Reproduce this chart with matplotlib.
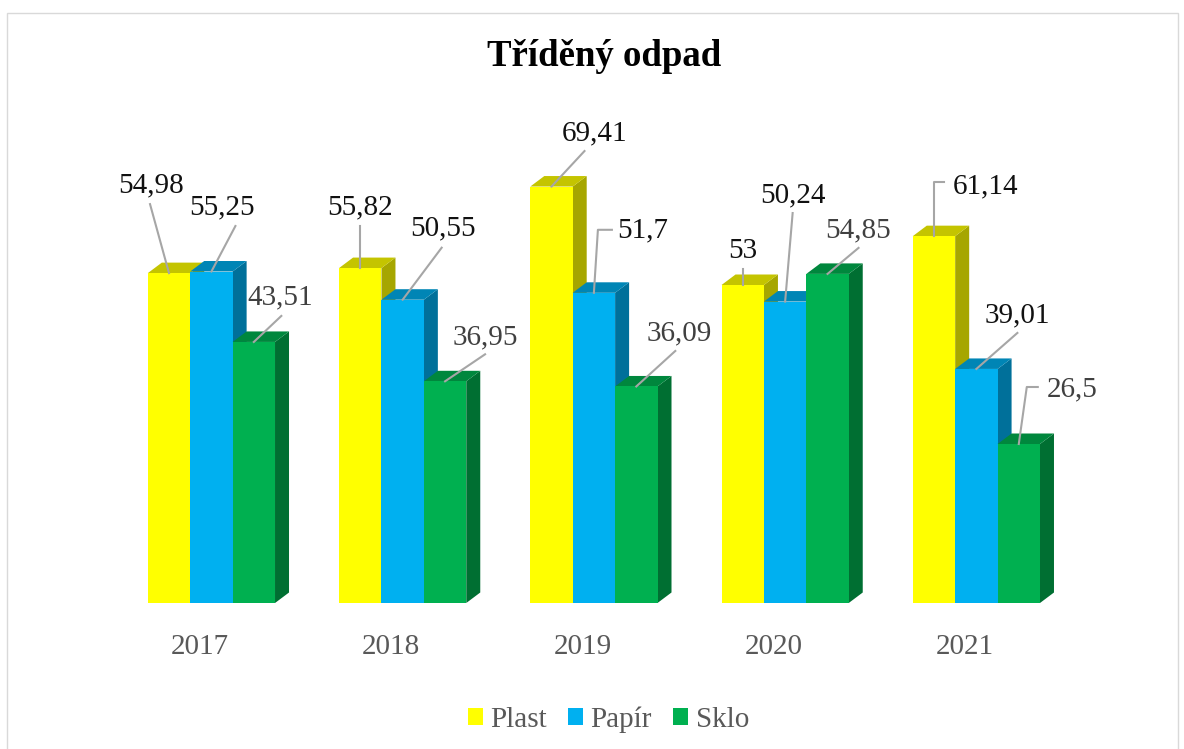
import matplotlib
matplotlib.use('Agg')
from matplotlib import pyplot as plt
from matplotlib.patches import Patch, Polygon, Rectangle

years = ['2017', '2018', '2019', '2020', '2021']
plast = [54.98, 55.82, 69.41, 53, 61.14]
papir = [55.25, 50.55, 51.7, 50.24, 39.01]
sklo = [43.51, 36.95, 36.09, 54.85, 26.5]

series_names = ['Plast', 'Papír', 'Sklo']
series_values = [plast, papir, sklo]
front_colors = ['#FFFF00', '#00B0F0', '#00B050']
top_colors = ['#C4C400', '#0085B5', '#00873D']
side_colors = ['#A6A600', '#00709A', '#006F32']
label_colors = ['#111111', '#111111', '#404040']

W, H = 1184, 749
DPI = 100
# axes frame in pixels of the picture
AX_LEFT, AX_RIGHT = 104.4, 1060.6
AX_TOP, AX_BOTTOM = 123, 603
YMAX = 80

# pixels to data units
PX_X = len(years) / (AX_RIGHT - AX_LEFT)
PX_Y = YMAX / (AX_BOTTOM - AX_TOP)

BAR_W = 42.4 * PX_X
BAR_SHIFT = 11.4 * PX_X
DEPTH_X = 14 * PX_X
DEPTH_Y = 10.5 * PX_Y

# label text offset from the bar's top centre, in px (right, up), one row per year
text_offsets = [
    [(-18, 88), (11, 64.5), (26.5, 45)],
    [(0, 61), (40, 71), (40, 44)],
    [(43, 53.5), (49, 62), (43, 53.5)],
    [(0, 34), (7.5, 106.5), (31, 44)],
    [(52, 50), (41, 54), (53, 55)],
]
# leader line points, from the label towards the bar's top centre, in px
leader_points = [
    [[(-19, 69)], [(24, 45.5)], [(27.5, 26)]],
    [[(0, 42)], [(39, 52)], [(40, 27)]],
    [[(33, 35.5)], [(18, 63), (4, 63)], [(39, 35.5)]],
    [[(0, 16)], [(7.5, 88.5)], [(31, 26)]],
    [[(10.5, 54), (0, 54)], [(41, 36)], [(19, 57), (8, 57)]],
]

plt.rcParams['font.family'] = ['Liberation Serif', 'DejaVu Serif']

fig = plt.figure(figsize=(W / DPI, H / DPI), dpi=DPI)
ax = fig.add_axes([AX_LEFT / W, 1 - AX_BOTTOM / H,
                   (AX_RIGHT - AX_LEFT) / W, (AX_BOTTOM - AX_TOP) / H])
ax.set_xlim(-0.5, len(years) - 0.5)
ax.set_ylim(0, YMAX)
ax.axis('off')

# chart border
fig.add_artist(Rectangle((6.5 / W, -0.01), 1171 / W, 1 - 12.5 / H + 0.01,
                         transform=fig.transFigure, fill=False,
                         edgecolor='#D9D9D9', linewidth=1))

for i, year in enumerate(years):
    for j, values in enumerate(series_values):
        v = values[i]
        center = i + BAR_SHIFT + (j - 1) * BAR_W
        x0 = center - BAR_W / 2
        x1 = center + BAR_W / 2
        z = 2 + j
        ax.add_patch(Polygon([(x1, 0), (x1 + DEPTH_X, DEPTH_Y),
                              (x1 + DEPTH_X, v + DEPTH_Y), (x1, v)],
                             facecolor=side_colors[j], edgecolor='none', zorder=z))
        ax.add_patch(Polygon([(x0, v), (x0 + DEPTH_X, v + DEPTH_Y),
                              (x1 + DEPTH_X, v + DEPTH_Y), (x1, v)],
                             facecolor=top_colors[j], edgecolor='none', zorder=z))
        ax.bar(center, v, width=BAR_W, color=front_colors[j], linewidth=0, zorder=z)

for i, year in enumerate(years):
    ax.text(i, -43.5 * PX_Y, year, ha='center', va='center', fontsize=21, color='#595959')
    for j, values in enumerate(series_values):
        v = values[i]
        center = i + BAR_SHIFT + (j - 1) * BAR_W
        pts = leader_points[i][j] + [(0, 0)]
        ax.plot([center + p[0] * PX_X for p in pts],
                [v + p[1] * PX_Y for p in pts],
                color='#A6A6A6', linewidth=1.5, zorder=10, clip_on=False)
        dx, dy = text_offsets[i][j]
        ax.text(center + dx * PX_X, v + dy * PX_Y,
                f'{v:g}'.replace('.', ','), ha='center', va='center',
                fontsize=21, color=label_colors[j], zorder=11)

fig.text(604 / W, 1 - 57 / H, 'Tříděný odpad', ha='center', va='center',
         fontsize=26.5, fontweight='bold', color='black')

handles = [Patch(facecolor=c, edgecolor='none') for c in front_colors]
fig.legend(handles, series_names, loc='center', bbox_to_anchor=(608.5 / W, 1 - 719.5 / H),
           ncol=3, fontsize=21, frameon=False, labelcolor='#595959',
           handlelength=0.52, handleheight=0.52, handletextpad=0.25,
           columnspacing=0.72, borderpad=0, borderaxespad=0)

fig.savefig('out.png', dpi=DPI)
